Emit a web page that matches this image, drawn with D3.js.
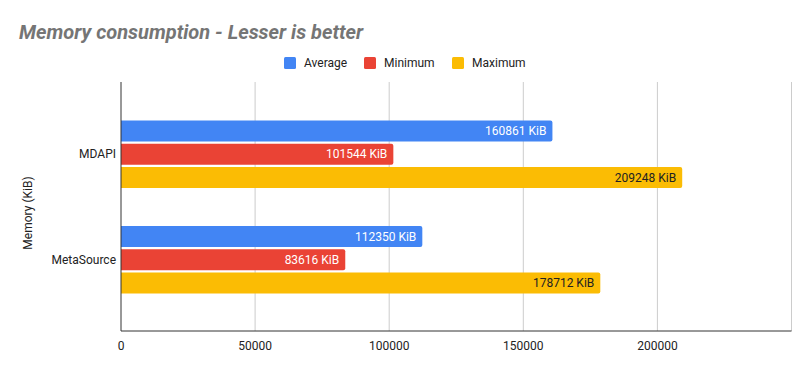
<!DOCTYPE html>
<html>
<head>
<meta charset="utf-8">
<script src="https://cdn.jsdelivr.net/npm/d3@7"></script>
<style>
  body { margin: 0; background: #fff; }
  svg { display: block; font-family: Roboto, "Noto Sans", sans-serif; }
</style>
</head>
<body>
<svg id="chart" width="810" height="371"></svg>
<script>
// chart data
const categories = ["MDAPI", "MetaSource"];
const seriesNames = ["Average", "Minimum", "Maximum"];
const averageValues = [160861, 112350];
const minimumValues = [101544, 83616];
const maximumValues = [209248, 178712];
const xTicks = [0, 50000, 100000, 150000, 200000, 250000];
const xTickLabels = ["0", "50000", "100000", "150000", "200000", ""];

const colors = ["#4285f4", "#ea4335", "#fbbc04"];
const labelColors = ["#ffffff", "#ffffff", "#222222"];

const width = 810, height = 371;
const plotLeft = 121, plotRight = 791.5, plotTop = 82, plotBottom = 331;

const svg = d3.select("#chart");

// rows built from the named arrays
const rows = categories.map((c, i) => ({
  category: c,
  values: [averageValues[i], minimumValues[i], maximumValues[i]]
}));

const x = d3.scaleLinear().domain([0, 250000]).range([plotLeft, plotRight]);
const y0 = d3.scaleBand().domain(categories).range([101.5, 312.5]).padding(0);
const y1 = d3.scaleBand().domain(seriesNames).range([0, y0.bandwidth()])
  .paddingInner(0.095).paddingOuter(0.82);

// gridlines
svg.append("g")
  .selectAll("line")
  .data(xTicks.slice(1))
  .join("line")
  .attr("x1", d => x(d)).attr("x2", d => x(d))
  .attr("y1", plotTop).attr("y2", plotBottom)
  .attr("stroke", "#cccccc")
  .attr("stroke-width", 1);

// bars
const groups = svg.append("g")
  .selectAll("g")
  .data(rows)
  .join("g")
  .attr("transform", d => `translate(0,${y0(d.category)})`);

const items = groups.selectAll("g")
  .data(d => d.values.map((v, j) => ({ name: seriesNames[j], value: v, j })))
  .join("g");

items.append("path")
  .attr("fill", d => colors[d.j])
  .attr("d", d => {
    const x0 = x(0), x1 = x(d.value), yt = y1(d.name), h = y1.bandwidth(), r = 2;
    return `M${x0},${yt}H${x1 - r}Q${x1},${yt} ${x1},${yt + r}V${yt + h - r}Q${x1},${yt + h} ${x1 - r},${yt + h}H${x0}Z`;
  });

items.append("text")
  .attr("x", d => x(d.value) - 6)
  .attr("y", d => y1(d.name) + y1.bandwidth() / 2)
  .attr("dy", "0.35em")
  .attr("text-anchor", "end")
  .attr("font-size", 12)
  .attr("fill", d => labelColors[d.j])
  .text(d => `${d.value} KiB`);

// axes lines
svg.append("line")
  .attr("x1", plotLeft).attr("x2", plotLeft)
  .attr("y1", plotTop).attr("y2", plotBottom)
  .attr("stroke", "#333").attr("stroke-width", 1);
svg.append("line")
  .attr("x1", plotLeft).attr("x2", plotRight)
  .attr("y1", plotBottom).attr("y2", plotBottom)
  .attr("stroke", "#333").attr("stroke-width", 1);

// x tick labels
svg.append("g")
  .selectAll("text")
  .data(xTicks)
  .join("text")
  .attr("x", d => x(d))
  .attr("y", 350)
  .attr("text-anchor", "middle")
  .attr("font-size", 12)
  .attr("fill", "#222")
  .text((d, i) => xTickLabels[i]);

// category labels
svg.append("g")
  .selectAll("text")
  .data(categories)
  .join("text")
  .attr("x", 116)
  .attr("y", d => y0(d) + y0.bandwidth() / 2)
  .attr("dy", "0.35em")
  .attr("text-anchor", "end")
  .attr("font-size", 12)
  .attr("fill", "#222")
  .text(d => d);

// y axis title
svg.append("text")
  .attr("transform", "translate(32,213) rotate(-90)")
  .attr("text-anchor", "middle")
  .attr("font-size", 12)
  .attr("fill", "#222")
  .text("Memory (KiB)");

// title
svg.append("text")
  .attr("x", 19)
  .attr("y", 39)
  .attr("font-size", 20)
  .attr("font-weight", "bold")
  .attr("font-style", "italic")
  .attr("fill", "#757575")
  .text("Memory consumption - Lesser is better");

// legend
const legendX = [284, 364, 452];
const legend = svg.append("g")
  .selectAll("g")
  .data(seriesNames)
  .join("g")
  .attr("transform", (d, i) => `translate(${legendX[i]},57)`);
legend.append("rect")
  .attr("width", 12).attr("height", 12).attr("rx", 1.5)
  .attr("fill", (d, i) => colors[i]);
legend.append("text")
  .attr("x", 20)
  .attr("y", 10)
  .attr("font-size", 12)
  .attr("fill", "#222")
  .text(d => d);
</script>
</body>
</html>
